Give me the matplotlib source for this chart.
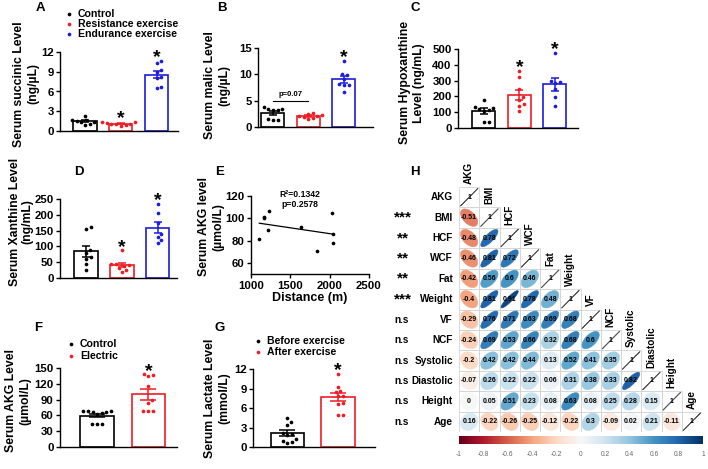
import numpy as np
import matplotlib
matplotlib.use('Agg')
import matplotlib.pyplot as plt
from matplotlib.patches import Polygon, Rectangle

plt.rcParams['font.family'] = ['Liberation Sans', 'DejaVu Sans']
plt.rcParams['font.weight'] = 'bold'
plt.rcParams['axes.labelweight'] = 'bold'
plt.rcParams['axes.linewidth'] = 1.0

W, H = 708, 469

# ---------------- data ----------------
legend3 = ['Control', 'Resistance exercise', 'Endurance exercise']
RED = '#ee1c24'
BLUE = '#1c1cdc'
colors3 = ['black', RED, BLUE]

succinic_control = [2.3, 1.7, 1.6, 1.5, 1.4, 1.3, 1.1, 0.9]
succinic_resistance = [1.4, 1.3, 1.2, 1.1, 1.0, 1.0, 0.9, 0.8]
succinic_endurance = [10.7, 10.3, 9.2, 9.0, 8.2, 8.0, 6.7, 6.5]

malic_control = [3.8, 3.5, 3.4, 3.3, 3.2, 1.6, 1.4, 1.3]
malic_resistance = [2.7, 2.4, 2.2, 2.1, 2.0, 1.9, 1.7, 1.5]
malic_endurance = [12.6, 10.1, 9.9, 9.2, 8.1, 8.0, 7.9, 6.6]
malic_p_label = 'p=0.07'
malic_p_level = 4.9

hypo_control = [180, 130, 125, 120, 115, 110, 40, 35]
hypo_resistance = [360, 320, 245, 195, 180, 150, 140, 105]
hypo_endurance = [475, 300, 290, 285, 245, 195, 140]

xanthine_control = [160, 155, 90, 80, 65, 60, 45, 25]
xanthine_resistance = [88, 45, 43, 40, 38, 33, 25, 20]
xanthine_endurance = [235, 205, 175, 140, 130, 120, 110]

distance_m = [1105, 1160, 1170, 1232, 1211, 1633, 1844, 2029, 2042, 2042]
akg_level = [81.5, 101, 100, 106, 89.6, 92, 71, 104.5, 86, 77.6]
e_stats = 'R\u00b2=0.1342\np=0.2578'

legend_f = ['Control', 'Electric']
akg_control = [65, 63, 67, 68, 68, 68, 67, 44, 43, 43]
akg_electric = [138, 136, 135, 116, 89, 83, 68, 68, 68]

legend_g = ['Before exercise', 'After exercise']
lactate_before = [4.5, 3.8, 3.4, 1.8, 2.0, 2.1, 1.2, 1.0, 0.7, 0.6]
lactate_after = [11.3, 9.2, 8.6, 8.4, 7.9, 7.8, 6.7, 6.6, 5.0, 5.0]

corr_labels = ['AKG', 'BMI', 'HCF', 'WCF', 'Fat', 'Weight', 'VF', 'NCF',
               'Systolic', 'Diastolic', 'Height', 'Age']
corr_values = [
    [1],
    [-0.51, 1],
    [-0.48, 0.78, 1],
    [-0.46, 0.81, 0.72, 1],
    [-0.42, 0.56, 0.6, 0.46, 1],
    [-0.4, 0.81, 0.91, 0.78, 0.48, 1],
    [-0.29, 0.76, 0.71, 0.63, 0.69, 0.68, 1],
    [-0.24, 0.69, 0.53, 0.66, 0.32, 0.68, 0.6, 1],
    [-0.2, 0.42, 0.42, 0.44, 0.13, 0.52, 0.41, 0.35, 1],
    [-0.07, 0.26, 0.22, 0.22, 0.06, 0.31, 0.38, 0.33, 0.82, 1],
    [0, 0.05, 0.51, 0.23, 0.08, 0.63, 0.08, 0.25, 0.28, 0.15, 1],
    [0.16, -0.22, -0.26, -0.25, -0.12, -0.22, 0.3, -0.09, 0.02, 0.21, -0.11, 1],
]
corr_sig = ['', '***', '**', '**', '**', '***', 'n.s', 'n.s', 'n.s', 'n.s', 'n.s', 'n.s']
cbar_ticks = [-1, -0.8, -0.6, -0.4, -0.2, 0, 0.2, 0.4, 0.6, 0.8, 1]
cbar_labels = ['-1', '-0.8', '-0.6', '-0.4', '-0.2', '0', '0.2', '0.4', '0.6', '0.8', '1']

# ---------------- helpers ----------------
fig = plt.figure(figsize=(W / 100, H / 100), dpi=100)


def add_ax(box):
    l, t, r, b = box
    return fig.add_axes([l / W, 1 - b / H, (r - l) / W, (b - t) / H])


def swarm(vals, xs, ys, dot=4.6):
    v = np.asarray(vals, float)
    order = np.argsort(v)
    cands = [0.0]
    for k in range(1, 80):
        cands += [k * 0.5, -k * 0.5]
    placed = []
    off = np.zeros(len(v))
    for idx in order:
        yp = v[idx] * ys
        for c in cands:
            if all((c - px) ** 2 + (yp - py) ** 2 >= dot ** 2 for px, py in placed):
                off[idx] = c / xs
                placed.append((c, yp))
                break
    return off


def style(ax, yticks):
    for s in ['top', 'right']:
        ax.spines[s].set_visible(False)
    ax.set_yticks(yticks)
    ax.tick_params(axis='both', labelsize=8.2, width=1.0, length=3, pad=1.5)
    ax.set_facecolor('none')


def bar_panel(box, groups, colors, xlim, ylim, yticks, width, capsize, stars):
    ax = add_ax(box)
    ax.set_xlim(xlim)
    ax.set_ylim(ylim)
    xs = (box[2] - box[0]) / (xlim[1] - xlim[0])
    ys = (box[3] - box[1]) / (ylim[1] - ylim[0])
    for i, (vals, c) in enumerate(zip(groups, colors)):
        v = np.asarray(vals, float)
        m = v.mean()
        se = v.std(ddof=1) / np.sqrt(len(v))
        ax.bar(i, m, width, facecolor='white', edgecolor=c, linewidth=1.2, zorder=2)
        ax.errorbar(i, m, yerr=se, fmt='none', ecolor=c, elinewidth=1.1,
                    capsize=capsize, capthick=1.1, zorder=3)
        off = swarm(v, xs, ys)
        ax.scatter(i + off, v, s=7, color=c, linewidths=0, zorder=4, clip_on=False)
        if i in stars:
            ax.annotate('*', xy=(i, v.max()), xytext=(0, -1), textcoords='offset points',
                        ha='center', va='baseline', fontsize=14, annotation_clip=False)
    style(ax, yticks)
    ax.set_xticks([])
    return ax


# ---------------- panels ----------------
bar_panel((60, 52, 178, 131), [succinic_control, succinic_resistance, succinic_endurance],
          colors3, (-0.70, 2.60), (0, 12), [0, 3, 6, 9, 12], 0.65, 3.2, [1, 2])

axB = bar_panel((258, 48, 373, 127), [malic_control, malic_resistance, malic_endurance],
                colors3, (-0.42, 2.82), (0, 15), [0, 5, 10, 15], 0.65, 3.2, [2])
axB.plot([0, 1], [malic_p_level, malic_p_level], color='black', lw=0.8)
axB.annotate(malic_p_label, xy=(0.5, malic_p_level), xytext=(0, 2), textcoords='offset points',
             ha='center', va='bottom', fontsize=5.5)

bar_panel((458, 49, 578, 128), [hypo_control, hypo_resistance, hypo_endurance],
          colors3, (-0.73, 2.65), (0, 500), [0, 100, 200, 300, 400, 500], 0.65, 3.2, [1, 2])

bar_panel((60, 199, 177, 278), [xanthine_control, xanthine_resistance, xanthine_endurance],
          colors3, (-0.73, 2.54), (0, 250), [0, 50, 100, 150, 200, 250], 0.65, 3.2, [1, 2])

# E scatter + regression
axE = add_ax((251, 195.7, 369, 274.3))
axE.set_xlim(1000, 2500)
axE.set_ylim(50, 120)
axE.scatter(distance_m, akg_level, s=7, color='black', linewidths=0, zorder=3)
coef = np.polyfit(distance_m, akg_level, 1)
xl = np.array([min(distance_m), max(distance_m)])
axE.plot(xl, np.polyval(coef, xl), color='black', lw=0.9)
style(axE, [60, 80, 100, 120])
axE.set_xticks([1000, 1500, 2000, 2500])
axE.set_xlabel('Distance (m)', fontsize=9, labelpad=1)

bar_panel((60, 368, 177, 447), [akg_control, akg_electric], ['black', RED],
          (-0.73, 1.56), (0, 150), [0, 30, 60, 90, 120, 150], 0.66, 6.0, [1])

bar_panel((253, 369, 375, 447), [lactate_before, lactate_after], ['black', RED],
          (-0.68, 1.73), (0, 12), [0, 3, 6, 9, 12], 0.66, 6.0, [1])

# H correlation plot
axH = add_ax((459, 187, 702, 432))
axH.set_xlim(0, 12)
axH.set_ylim(12, 0)
axH.axis('off')
cmap = plt.cm.RdBu
tt = np.linspace(0, 2 * np.pi, 99)
for i, row in enumerate(corr_values):
    for j, r in enumerate(row):
        axH.add_patch(Rectangle((j, i), 1, 1, fill=False, edgecolor='#d4d4d4', lw=0.6, zorder=1))
        a = np.arccos(np.clip(r, -1, 1))
        ex = np.cos(tt + a / 2) / 2 * 0.85
        ey = np.cos(tt - a / 2) / 2 * 0.85
        col = cmap((r + 1) / 2)
        if i == j:
            axH.plot(j + 0.5 + ex, i + 0.5 - ey, color='#555555', lw=0.6, zorder=2)
        else:
            axH.add_patch(Polygon(np.c_[j + 0.5 + ex, i + 0.5 - ey], closed=True,
                                  facecolor=col, edgecolor=col, lw=0.4, zorder=2))
        axH.text(j + 0.5, i + 0.5, f'{r:g}', ha='center', va='center', fontsize=5,
                 color='black', zorder=3)
for i, lab in enumerate(corr_labels):
    axH.text(-0.3, i + 0.5, lab, ha='right', va='center', fontsize=7.2, clip_on=False)
    axH.text(i + 0.5, i - 0.15, lab, ha='center', va='bottom', rotation=90,
             fontsize=7.2, clip_on=False)
    if corr_sig[i]:
        if corr_sig[i].startswith('*'):
            axH.text(-2.77, i + 0.5, corr_sig[i], ha='center', va='center', fontsize=11,
                     clip_on=False)
        else:
            axH.text(-2.86, i + 0.5, corr_sig[i], ha='center', va='center', fontsize=7.2,
                     clip_on=False)

axC = add_ax((459, 436, 703, 444))
grad = np.linspace(-1, 1, 256)[None, :]
axC.imshow(grad, cmap=cmap, aspect='auto', extent=(-1, 1, 0, 1), vmin=-1, vmax=1)
axC.set_yticks([])
axC.set_xticks(cbar_ticks)
axC.set_xticklabels(cbar_labels, fontsize=4.8, fontweight='normal', color='#666666')
axC.tick_params(axis='x', length=0, pad=5)
for s in axC.spines.values():
    s.set_visible(False)

# ---------------- overlay text ----------------
ov = fig.add_axes([0, 0, 1, 1])
ov.set_xlim(0, W)
ov.set_ylim(H, 0)
ov.axis('off')

for lab, x, y in [('A', 40, 8), ('B', 222, 8), ('C', 415, 8), ('D', 79, 172),
                  ('E', 220, 172), ('H', 415, 172), ('F', 38, 328), ('G', 220, 328)]:
    ov.text(x, y, lab, ha='center', va='center', fontsize=9.5)

ylabels = [('Serum succinic Level\n(ng/\u00b5L)', 26, 84, 1.2),
           ('Serum malic Level\n(ng/\u00b5L)', 217, 85, 1.2),
           ('Serum Hypoxanthine\nLevel (ng/mL)', 412, 83, 1.2),
           ('Serum Xanthine Level\n(ng/mL)', 21, 222, 1.1),
           ('Serum AKG level\n(\u00b5mol/L)', 211, 227, 1.2),
           ('Serum AKG Level\n(\u00b5mol/L)', 18, 401, 1.2),
           ('Serum Lactate Level\n(mmol/L)', 217, 398, 1.2)]
for txt, x, y, ls in ylabels:
    ov.text(x, y, txt, rotation=90, ha='center', va='center', multialignment='center',
            fontsize=8.8, linespacing=ls)

ov.text(300, 199.5, e_stats, ha='center', va='center', fontsize=6.2, linespacing=1.1)


def legend(x, y0, dy, labels, colors):
    for k, (lab, c) in enumerate(zip(labels, colors)):
        ov.scatter([x], [y0 + k * dy], s=7, color=c, linewidths=0)
        ov.text(x + 9, y0 + k * dy, lab, ha='left', va='center', fontsize=7.6)


legend(69, 14, 10.2, legend3, colors3)
legend(71, 344, 12, legend_f, ['black', RED])
legend(258, 340.7, 11, legend_g, ['black', RED])

fig.savefig('out.png', dpi=100)
